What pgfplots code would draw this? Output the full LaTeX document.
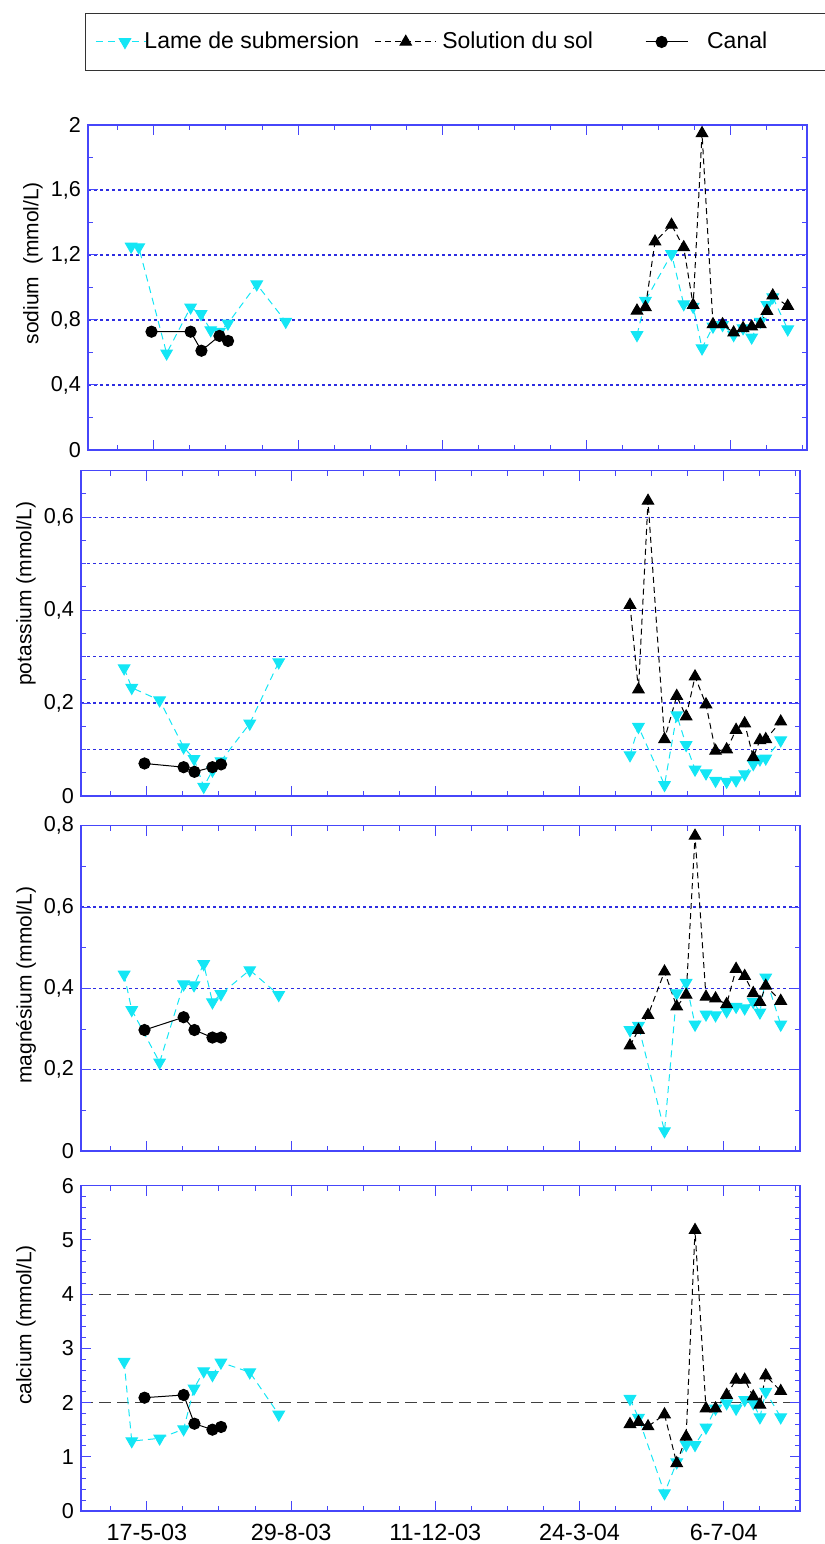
\documentclass[border=0pt]{standalone}
\usepackage{fontspec}
\setmainfont{Liberation Sans}
\usepackage{pgfplots}
\pgfplotsset{compat=1.18}
\definecolor{axblue}{RGB}{70,70,250}
\definecolor{gridblue}{RGB}{45,45,225}
\definecolor{lcyan}{RGB}{20,230,245}
\pgfplotsset{
  panel/.style={
    scale only axis, width=359.5pt, height=162.65pt,
    xmin=-47.5, xmax=471,
    clip=false,
    axis line style={axblue, line width=0.6pt},
    tick style={axblue, line width=0.5pt},
    major tick length=5pt, minor tick length=2.5pt,
    xtick={0,104,208,312,416},
    minor xtick={-26,26,52,78,130,156,182,234,260,286,338,364,390,442,468},
    xticklabels={},
    yticklabel style={font=\fontsize{10.8}{12}\selectfont},
    xticklabel style={font=\fontsize{11.7}{13}\selectfont, yshift=-3pt},
    /pgf/number format/assume math mode=true,
    unbounded coords=jump,
    major grid style={gridblue, line width=0.6pt, dash pattern=on 1.6pt off 1.4pt},
  },
  lame/.style={lcyan, dash pattern=on 3.5pt off 2.5pt, line width=0.5pt, mark=triangle*, mark size=3.3pt,
    mark options={solid, rotate=180, fill=lcyan, draw=lcyan},
    legend image code/.code={\draw[mark repeat=2,mark phase=2] plot coordinates {(0pt,0pt) (14.5pt,0pt) (25pt,0pt)};}},
  sol/.style={black, dash pattern=on 3pt off 2pt, line width=0.5pt, mark=triangle*, mark size=3.3pt,
    mark options={solid, fill=black},
    legend image code/.code={\draw[mark repeat=2,mark phase=2] plot coordinates {(0pt,0pt) (15.5pt,0pt) (30.5pt,0pt)};}},
  canal/.style={black, solid, line width=0.5pt, mark=*, mark size=2.8pt, mark options={fill=black},
    legend image code/.code={\draw[mark repeat=2,mark phase=2] plot coordinates {(0pt,0pt) (8pt,0pt) (21pt,0pt)};}},
}
\begin{document}
\begin{tikzpicture}
% ---------------- sodium ----------------
\begin{axis}[panel, at={(44pt,547pt)}, anchor=south west, height=162.5pt,
  ymin=0, ymax=2,
  ytick={0,0.4,0.8,1.2,1.6,2}, yticklabels={0,{0,4},{0,8},{1,2},{1,6},2},
  minor ytick={0.2,0.6,1,1.4,1.8},
  ymajorgrids,
  ylabel={sodium\ \ (mmol/L)},
  ylabel style={font=\fontsize{10.5}{12}\selectfont, at={(axis description cs:-0.0765,0.575)}, anchor=center},
  legend columns=3,
  legend style={at={(axis description cs:-0.0042,1.3446)}, anchor=north west,
    draw=black!80, line width=0.5pt, font=\fontsize{11.5}{13}\selectfont,
    inner xsep=5pt, inner ysep=9.3pt, nodes={inner sep=0pt},
    /tikz/every even column/.style={},
    /tikz/column 1/.style={column sep=-1pt},
    /tikz/column 2/.style={column sep=7.5pt},
    /tikz/column 3/.style={column sep=3pt},
    /tikz/column 4/.style={column sep=26pt},
    /tikz/column 5/.style={column sep=9.5pt}},
  legend cell align=left,
]
\addplot[lame] coordinates {(-16.4,1.252) (-10.9,1.248) (9.2,0.595) (26.5,0.878) (34,0.837) (41,0.738) (47.3,0.728) (53.4,0.779) (74.2,1.02) (95.1,0.79) (200,nan)
 (348.4,0.708) (354.5,0.919) (373.3,1.206) (382.1,0.898) (388.9,0.882) (395.3,0.626) (403.2,0.76) (410.1,0.77) (418.1,0.708) (424.9,0.75) (431.1,0.693) (437.3,0.79) (442.1,0.892) (446.3,0.94) (457.1,0.743)};
\addplot[sol] coordinates {(348.4,0.857) (354.5,0.878) (361.4,1.282) (373.3,1.385) (382.1,1.247) (388.9,0.892) (395.3,1.949) (403.2,0.773) (410.1,0.773) (418.1,0.722) (424.9,0.749) (431.1,0.759) (437.3,0.773) (442.1,0.855) (446.3,0.950) (457.1,0.886)};
\addplot[canal] coordinates {(-1.7,0.728) (26.5,0.728) (34.3,0.611) (47.3,0.702) (53.5,0.671)};
\legend{Lame de submersion, Solution du sol, Canal\hspace*{60pt}}
\end{axis}
% ---------------- potassium ----------------
\begin{axis}[panel, at={(40.5pt,374pt)}, anchor=south west,
  ymin=0, ymax=0.7,
  ytick={0,0.2,0.4,0.6}, yticklabels={0,{0,2},{0,4},{0,6}},
  minor ytick={0.05,0.15,0.25,0.35,0.45,0.55,0.65},
  ymajorgrids,
  extra y ticks={0.1,0.3,0.5}, extra y tick labels={},
  extra y tick style={grid=major, major tick length=2.5pt},
  ylabel={potassium (mmol/L)},
  ylabel style={font=\fontsize{10.5}{12}\selectfont, at={(axis description cs:-0.0765,0.622)}, anchor=center},
]
\addplot[lame] coordinates {(-16.4,0.275) (-10.9,0.233) (9.2,0.206) (26.5,0.105) (34,0.080) (41,0.020) (47.3,0.055) (53.4,0.075) (74.2,0.156) (95.1,0.288) (200,nan)
 (348.4,0.088) (354.5,0.149) (373.3,0.024) (382.1,0.174) (388.9,0.110) (395.3,0.057) (403.2,0.049) (410.1,0.033) (418.1,0.031) (424.9,0.034) (431.1,0.047) (437.3,0.069) (442.1,0.079) (446.3,0.081) (457.1,0.120)};
\addplot[sol] coordinates {(348.4,0.411) (354.5,0.229) (361.4,0.635) (373.3,0.122) (382.1,0.215) (388.9,0.171) (395.3,0.257) (403.2,0.197) (410.1,0.097) (418.1,0.100) (424.9,0.142) (431.1,0.156) (437.3,0.083) (442.1,0.120) (446.3,0.122) (457.1,0.160)};
\addplot[canal] coordinates {(-1.7,0.070) (26.5,0.062) (34.3,0.052) (47.3,0.062) (53.5,0.068)};
\end{axis}
% ---------------- magnesium ----------------
\begin{axis}[panel, at={(40.5pt,196.5pt)}, anchor=south west,
  ymin=0, ymax=0.8,
  ytick={0,0.2,0.4,0.6,0.8}, yticklabels={0,{0,2},{0,4},{0,6},{0,8}},
  minor ytick={0.1,0.3,0.5,0.7},
  ymajorgrids,
  ylabel={magnésium (mmol/L)},
  ylabel style={font=\fontsize{10.5}{12}\selectfont, at={(axis description cs:-0.0765,0.51)}, anchor=center},
]
\addplot[lame] coordinates {(-16.4,0.434) (-10.9,0.347) (9.2,0.218) (26.5,0.410) (34,0.408) (41,0.460) (47.3,0.366) (53.4,0.386) (74.2,0.445) (95.1,0.384) (200,nan)
 (348.4,0.2975) (354.5,0.308) (373.3,0.049) (382.1,0.388) (388.9,0.414) (395.3,0.311) (403.2,0.336) (410.1,0.334) (418.1,0.344) (424.9,0.355) (431.1,0.351) (437.3,0.367) (442.1,0.341) (446.3,0.427) (457.1,0.311)};
\addplot[sol] coordinates {(348.4,0.259) (354.5,0.2975) (361.4,0.334) (373.3,0.441) (382.1,0.355) (388.9,0.384) (395.3,0.775) (403.2,0.379) (410.1,0.375) (418.1,0.361) (424.9,0.4475) (431.1,0.430) (437.3,0.388) (442.1,0.366) (446.3,0.406) (457.1,0.369)};
\addplot[canal] coordinates {(-1.7,0.2975) (26.5,0.329) (34.3,0.2975) (47.3,0.279) (53.5,0.279)};
\end{axis}
% ---------------- calcium ----------------
\begin{axis}[panel, at={(40.5pt,16.5pt)}, anchor=south west,
  ymin=0, ymax=6,
  ytick={0,1,2,3,4,5,6}, yticklabels={0,1,2,3,4,5,6},
  minor y tick num=4,
  extra y ticks={2,4}, extra y tick labels={},
  extra y tick style={grid=major, major grid style={black!75, line width=0.5pt, dash pattern=on 6pt off 3pt}},
  xticklabels={17-5-03,29-8-03,11-12-03,24-3-04,6-7-04},
  ylabel={calcium (mmol/L)},
  ylabel style={font=\fontsize{10.5}{12}\selectfont, at={(axis description cs:-0.0765,0.572)}, anchor=center},
]
\addplot[lame] coordinates {(-16.4,2.755) (-10.9,1.29) (9.2,1.34) (26.5,1.51) (34,2.26) (41,2.58) (47.3,2.51) (53.4,2.74) (74.2,2.56) (95.1,1.78) (200,nan)
 (348.4,2.07) (354.5,1.72) (373.3,0.33) (382.1,0.90) (388.9,1.22) (395.3,1.22) (403.2,1.54) (410.1,1.89) (418.1,1.99) (424.9,1.89) (431.1,2.05) (437.3,1.99) (442.1,1.73) (446.3,2.20) (457.1,1.73)};
\addplot[sol] coordinates {(348.4,1.60) (354.5,1.64) (361.4,1.56) (373.3,1.78) (382.1,0.88) (388.9,1.37) (395.3,5.18) (403.2,1.89) (410.1,1.89) (418.1,2.14) (424.9,2.42) (431.1,2.42) (437.3,2.11) (442.1,1.96) (446.3,2.50) (457.1,2.21)};
\addplot[canal] coordinates {(-1.7,2.09) (26.5,2.14) (34.3,1.61) (47.3,1.50) (53.5,1.55)};
\end{axis}
\pgfresetboundingbox
\path[use as bounding box] (0,0) rectangle (412.5pt,772pt);
\end{tikzpicture}
\end{document}
